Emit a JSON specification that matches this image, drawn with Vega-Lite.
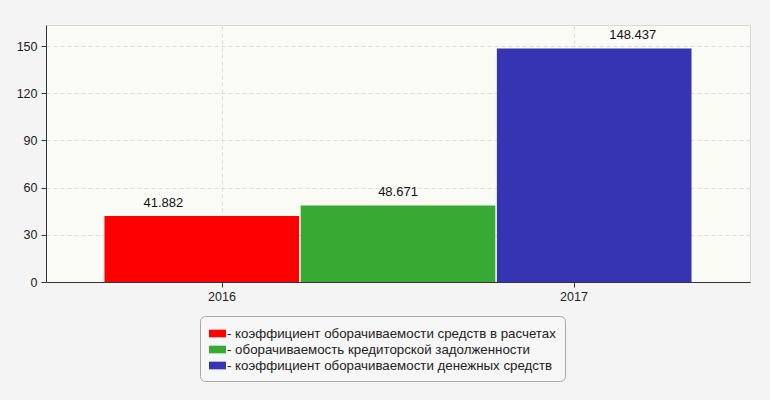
{
  "$schema": "https://vega.github.io/schema/vega-lite/v6.json",
  "width": 704,
  "height": 257,
  "autosize": {"type": "none"},
  "padding": {"left": 46, "top": 25, "right": 20, "bottom": 118},
  "background": "#f4f4f4",
  "config": {
    "font": "Liberation Sans",
    "view": {"stroke": "#d8d8d8", "fill": "#fbfbf6"},
    "axis": {
      "labelFont": "Liberation Sans",
      "labelFontSize": 12.5,
      "labelColor": "#222",
      "domainColor": "#333",
      "tickColor": "#333",
      "tickSize": 5,
      "gridColor": "#dcdcdc",
      "gridDash": [4, 3],
      "title": null
    }
  },
  "data": {
    "values": [
      {"series": "коэффициент оборачиваемости средств в расчетах", "year": "2016", "value": 41.882},
      {"series": "оборачиваемость кредиторской задолженности", "year": "2016", "value": 48.671},
      {"series": "коэффициент оборачиваемости денежных средств", "year": "2017", "value": 148.437}
    ]
  },
  "layer": [
    {
      "mark": {"type": "tick", "opacity": 0},
      "encoding": {
        "x": {
          "field": "year",
          "type": "nominal",
          "scale": {"domain": ["2016", "2017"], "paddingInner": 0, "paddingOuter": 0},
          "axis": {"labelAngle": 0, "grid": true, "bandPosition": 0.5, "labelPadding": 3, "zindex": 0}
        }
      }
    },
    {
      "mark": {"type": "bar"},
      "encoding": {
        "x": {
          "field": "series",
          "type": "nominal",
          "sort": null,
          "scale": {
            "domain": [
              "коэффициент оборачиваемости средств в расчетах",
              "оборачиваемость кредиторской задолженности",
              "коэффициент оборачиваемости денежных средств"
            ],
            "paddingInner": 0.008,
            "paddingOuter": 0.298
          },
          "axis": null
        },
        "y": {
          "field": "value",
          "type": "quantitative",
          "scale": {"domain": [0, 163.35], "nice": false},
          "axis": {
            "values": [0, 30, 60, 90, 120, 150],
            "grid": true,
            "labelPadding": 4,
            "domainColor": "#333",
            "zindex": 0
          }
        },
        "color": {
          "field": "series",
          "type": "nominal",
          "sort": null,
          "scale": {
            "domain": [
              "коэффициент оборачиваемости средств в расчетах",
              "оборачиваемость кредиторской задолженности",
              "коэффициент оборачиваемости денежных средств"
            ],
            "range": ["#ff0000", "#36aa33", "#3634b3"]
          },
          "legend": {
            "orient": "none",
            "legendX": 154,
            "legendY": 291,
            "title": null,
            "direction": "vertical",
            "symbolType": "M-1,-0.45L1,-0.45L1,0.45L-1,0.45Z",
            "symbolSize": 289,
            "symbolStrokeWidth": 0,
            "symbolOpacity": 1,
            "labelExpr": "'- ' + datum.label",
            "labelFont": "Liberation Sans",
            "labelFontSize": 13.3,
            "labelColor": "#222",
            "labelLimit": 600,
            "labelOffset": 1,
            "rowPadding": 1,
            "padding": 9,
            "strokeColor": "#a8a8a8",
            "fillColor": "#f7f7f7",
            "cornerRadius": 5
          }
        }
      }
    },
    {
      "mark": {"type": "text", "baseline": "bottom", "dy": -6, "fontSize": 13, "font": "Liberation Sans", "color": "#111"},
      "encoding": {
        "x": {
          "field": "series",
          "type": "nominal",
          "sort": null,
          "scale": {
            "domain": [
              "коэффициент оборачиваемости средств в расчетах",
              "оборачиваемость кредиторской задолженности",
              "коэффициент оборачиваемости денежных средств"
            ],
            "paddingInner": 0.008,
            "paddingOuter": 0.298
          },
          "axis": null
        },
        "y": {"field": "value", "type": "quantitative"},
        "text": {"field": "value", "type": "quantitative", "format": ".3f"}
      }
    }
  ],
  "resolve": {"scale": {"x": "independent"}}
}
